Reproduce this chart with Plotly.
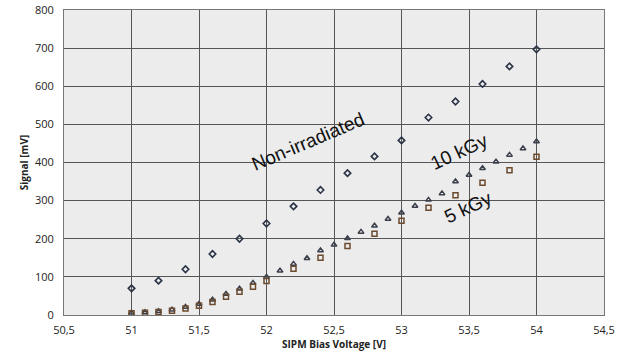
import plotly.graph_objects as go

# Non-irradiated (diamonds)
x_non = [51.0, 51.2, 51.4, 51.6, 51.8, 52.0, 52.2, 52.4, 52.6, 52.8, 53.0, 53.2, 53.4, 53.6, 53.8, 54.0]
y_non = [70, 90, 120, 160, 200, 240, 285, 328, 372, 416, 458, 518, 560, 606, 652, 697]

# 10 kGy (triangles)
x_10 = [51.0, 51.1, 51.2, 51.3, 51.4, 51.5, 51.6, 51.7, 51.8, 51.9, 52.0, 52.1, 52.2, 52.3, 52.4, 52.5,
        52.6, 52.7, 52.8, 52.9, 53.0, 53.1, 53.2, 53.3, 53.4, 53.5, 53.6, 53.7, 53.8, 53.9, 54.0]
y_10 = [6, 7, 10, 14, 21, 29, 40, 55, 69, 84, 100, 116, 134, 149, 169, 184,
        201, 218, 234, 252, 268, 286, 302, 319, 350, 367, 385, 402, 420, 437, 455]

# 5 kGy (squares)
x_5 = [51.0, 51.1, 51.2, 51.3, 51.4, 51.5, 51.6, 51.7, 51.8, 51.9, 52.0,
       52.2, 52.4, 52.6, 52.8, 53.0, 53.2, 53.4, 53.6, 53.8, 54.0]
y_5 = [4.5, 6, 8, 11, 17, 24, 34, 48, 61, 74, 89,
       121, 150, 181, 213, 247, 281, 314, 347, 380, 415]

x_ticks = [50.5, 51, 51.5, 52, 52.5, 53, 53.5, 54, 54.5]
x_ticktext = ["50,5", "51", "51,5", "52", "52,5", "53", "53,5", "54", "54,5"]
y_ticks = [0, 100, 200, 300, 400, 500, 600, 700, 800]

fig = go.Figure()
fig.add_trace(go.Scatter(x=x_10, y=y_10, mode="markers", name="10 kGy",
                         marker=dict(symbol="triangle-up-open", size=5, color="#3a3f4a",
                                     line=dict(width=1.5, color="#3a3f4a"))))
fig.add_trace(go.Scatter(x=x_5, y=y_5, mode="markers", name="5 kGy",
                         marker=dict(symbol="square-open", size=5, color="#6b4a2e",
                                     line=dict(width=1.5, color="#6b4a2e"))))
fig.add_trace(go.Scatter(x=x_non, y=y_non, mode="markers", name="Non-irradiated",
                         marker=dict(symbol="diamond-open", size=5, color="#2a3346",
                                     line=dict(width=1.6, color="#2a3346"))))

font_fam = "Open Sans, Lato, sans-serif"
fig.update_layout(
    width=625, height=355,
    margin=dict(l=64, r=21, t=10, b=40, autoexpand=False),
    paper_bgcolor="white",
    plot_bgcolor="#ececec",
    showlegend=False,
    font=dict(family=font_fam, size=11, color="#222"),
    xaxis=dict(range=[50.5, 54.5], tickvals=x_ticks, ticktext=x_ticktext,
               showgrid=True, gridcolor="#555", gridwidth=1, zeroline=False,
               showline=True, linecolor="#777", linewidth=1, mirror=True,
               ticks="", automargin=False, ticklabelstandoff=5,
               title=dict(text="<b>SIPM Bias Voltage [V]</b>", font=dict(size=10, family=font_fam), standoff=0),
               tickfont=dict(size=11, color="#222")),
    yaxis=dict(range=[0, 800], tickvals=y_ticks,
               showgrid=True, gridcolor="#555", gridwidth=1, zeroline=False,
               showline=True, linecolor="#777", linewidth=1, mirror=True,
               ticks="", automargin=False, ticklabelstandoff=7,
               title=dict(text="<b>Signal [mV]</b>", font=dict(size=10, family=font_fam), standoff=4),
               tickfont=dict(size=11, color="#222")),
)

ann_font = dict(family="Liberation Sans, Arial, sans-serif", size=19, color="#111")
fig.add_annotation(x=52.31, y=454, text="Non-irradiated", showarrow=False, textangle=-23, font=ann_font)
fig.add_annotation(x=53.43, y=428, text="10 kGy", showarrow=False, textangle=-25, font=ann_font)
fig.add_annotation(x=53.49, y=283, text="5 kGy", showarrow=False, textangle=-25, font=ann_font)

fig.write_html("out.html", config={"displayModeBar": False},
               post_script="document.body.style.margin='0';")
